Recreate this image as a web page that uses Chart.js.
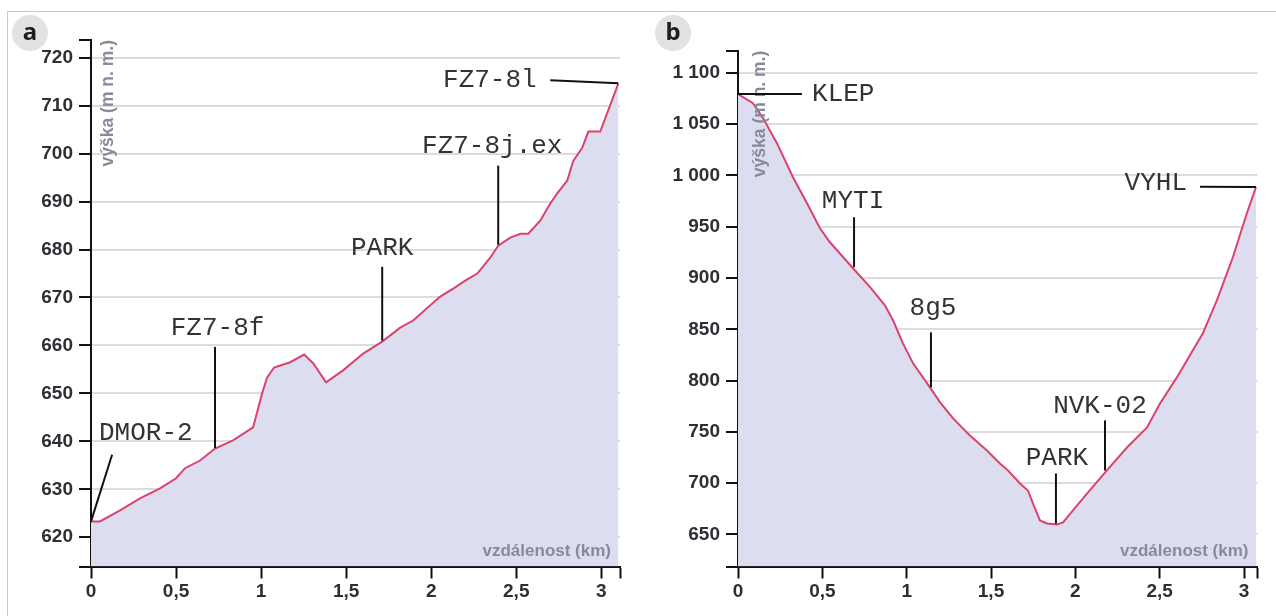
<!DOCTYPE html>
<html>
<head>
<meta charset="utf-8">
<script src="https://cdn.jsdelivr.net/npm/chart.js@4"></script>
<style>
  body { margin: 0; background: #fff; }
  #wrap { position: relative; width: 1276px; height: 616px; overflow: hidden; }
  #frame { position: absolute; left: 7px; top: 11px; width: 1300px; height: 700px;
           border-top: 1px solid #c8c8c8; border-left: 1px solid #c8c8c8; }
  canvas { position: absolute; top: 0; }
  .tag { position: absolute; width: 36px; height: 36px; border-radius: 50%; background: #e2e2e2;
         font: bold 24px "Noto Sans", sans-serif; color: #1e1e1e; text-align: center; line-height: 32px; }
</style>
</head>
<body>
<div id="wrap">
  <div id="frame"></div>
  <canvas id="chart-a" width="640" height="616" style="left:0"></canvas>
  <canvas id="chart-b" width="636" height="616" style="left:640px"></canvas>
  <div class="tag" style="left:12px; top:15px">a</div>
  <div class="tag" style="left:655px; top:15px">b</div>
</div>
<script>
// panel a - distance (km) and elevation (m n. m.)
const distA = [0, 0.053, 0.171, 0.288, 0.406, 0.5, 0.553, 0.641, 0.729, 0.835, 0.953, 1.006, 1.035,
  1.076, 1.171, 1.253, 1.306, 1.382, 1.482, 1.6, 1.712, 1.818, 1.894, 2.053, 2.141, 2.2, 2.271,
  2.347, 2.394, 2.465, 2.524, 2.571, 2.641, 2.7, 2.741, 2.8, 2.835, 2.888, 2.924, 2.994, 3.1];
const elevA = [623.3, 623.3, 625.6, 628.1, 630.2, 632.3, 634.4, 636.0, 638.5, 640.2, 642.9, 650.0, 653.3,
  655.4, 656.5, 658.1, 656.3, 652.3, 654.8, 658.3, 660.8, 663.7, 665.2, 670.2, 672.1, 673.5, 675.0,
  678.3, 680.8, 682.5, 683.3, 683.3, 686.0, 689.6, 691.7, 694.4, 698.5, 701.2, 704.6, 704.6, 714.6];
const sitesA = ['DMOR-2', 'FZ7-8f', 'PARK', 'FZ7-8j.ex', 'FZ7-8l'];

// panel b
const distB = [0, 0.089, 0.148, 0.231, 0.326, 0.409, 0.486, 0.545, 0.682, 0.783, 0.871, 0.919, 0.978,
  1.038, 1.138, 1.197, 1.275, 1.375, 1.476, 1.553, 1.601, 1.672, 1.719, 1.749, 1.79, 1.832, 1.891,
  1.927, 1.986, 2.069, 2.187, 2.306, 2.425, 2.502, 2.602, 2.697, 2.756, 2.839, 2.934, 3.017, 3.071];
const elevB = [1079.2, 1070.4, 1055.8, 1031.4, 998.2, 972.9, 948.5, 934.8, 909.5, 891.0, 873.4, 858.8, 836.3,
  816.8, 793.4, 779.0, 763.1, 746.5, 731.9, 719.2, 712.4, 699.7, 692.9, 680.2, 663.7, 660.7, 659.7,
  661.7, 673.4, 689.9, 712.4, 734.8, 754.3, 777.7, 803.1, 829.5, 846.0, 878.2, 920.2, 963.1, 988.5];
const sitesB = ['KLEP', 'MYTI', '8g5', 'PARK', 'NVK-02', 'VYHL'];

// ticks
const xTicks = [0, 0.5, 1, 1.5, 2, 2.5, 3];
const xTickLabels = ['0', '0,5', '1', '1,5', '2', '2,5', '3'];
const yTicksA = [620, 630, 640, 650, 660, 670, 680, 690, 700, 710, 720];
const yTickLabelsA = ['620', '630', '640', '650', '660', '670', '680', '690', '700', '710', '720'];
const yTicksB = [650, 700, 750, 800, 850, 900, 950, 1000, 1050, 1100];
const yTickLabelsB = ['650', '700', '750', '800', '850', '900', '950', '1 000', '1 050', '1 100'];

// where the site names and their leader lines go (data units)
const notesA = [
  { lx: 0.047, ly: 641.8, align: 'left', line: [0, 623.3, 0.124, 637.2] },
  { lx: 0.744, ly: 663.7, align: 'center', line: [0.729, 659.7, 0.729, 638.6] },
  { lx: 1.712, ly: 680.2, align: 'center', line: [1.712, 676.4, 1.712, 661.0] },
  { lx: 2.359, ly: 701.6, align: 'center', line: [2.394, 697.5, 2.394, 681.0] },
  { lx: 2.62, ly: 715.3, align: 'right', line: [2.7, 715.3, 3.1, 714.7] }
];
const notesB = [
  { lx: 0.439, ly: 1079.2, align: 'left', line: [0, 1079.2, 0.379, 1079.2] },
  { lx: 0.682, ly: 974.8, align: 'center', line: [0.688, 959.2, 0.688, 910.5] },
  { lx: 1.156, ly: 870.5, align: 'center', line: [1.144, 847, 1.144, 793.4] },
  { lx: 1.891, ly: 724.1, align: 'center', line: [1.885, 709.5, 1.885, 660.5] },
  { lx: 2.146, ly: 775.0, align: 'center', line: [2.176, 761.2, 2.176, 712.4] },
  { lx: 2.662, ly: 992.4, align: 'right', line: [2.739, 988.8, 3.071, 988.6] }
];

const tickFont = { family: 'Liberation Sans', weight: 'bold', size: 19 };

const overlay = {
  id: 'overlay',
  afterDatasetsDraw(chart, args, opts) {
    const { ctx, chartArea: ca, scales: { x, y } } = chart;
    ctx.save();
    ctx.fillStyle = '#868a9a';
    ctx.textBaseline = 'middle';
    ctx.textAlign = 'right';
    ctx.font = 'bold 17px "Liberation Sans"';
    ctx.fillText('vzdálenost (km)', ca.right - 9, ca.bottom - 15);
    ctx.save();
    ctx.translate(ca.left + opts.titleOffset, ca.top);
    ctx.rotate(-Math.PI / 2);
    ctx.font = 'bold 17.5px "Liberation Sans"';
    ctx.fillText('výška (m n. m.)', 0, 0);
    ctx.restore();

    ctx.strokeStyle = '#111';
    ctx.lineWidth = 2;
    ctx.fillStyle = '#333';
    ctx.font = '26px "Liberation Mono", "Courier New", monospace';
    opts.notes.forEach((n, i) => {
      const l = n.line;
      ctx.beginPath();
      ctx.moveTo(x.getPixelForValue(l[0]), y.getPixelForValue(l[1]));
      ctx.lineTo(x.getPixelForValue(l[2]), y.getPixelForValue(l[3]));
      ctx.stroke();
      ctx.textAlign = n.align;
      ctx.fillText(opts.names[i], x.getPixelForValue(n.lx), y.getPixelForValue(n.ly));
    });
    ctx.restore();
  }
};

function makeChart(id, dist, elev, yTicks, yLabels, yMin, yMax, xMax, pad, yWidth, names, notes, titleOffset) {
  return new Chart(document.getElementById(id), {
    type: 'line',
    data: {
      datasets: [{
        data: dist.map((d, i) => ({ x: d, y: elev[i] })),
        borderColor: '#d94272',
        borderWidth: 2,
        backgroundColor: '#dcdef0',
        fill: 'start',
        pointRadius: 0,
        tension: 0
      }]
    },
    options: {
      responsive: false,
      animation: false,
      layout: { padding: pad },
      scales: {
        x: {
          type: 'linear',
          min: 0,
          max: xMax,
          afterBuildTicks: axis => { axis.ticks = xTicks.concat([xMax]).map(v => ({ value: v })); },
          afterFit: axis => { axis.height = 49.5; },
          grid: { drawOnChartArea: false, tickLength: 12, tickColor: '#111', tickWidth: 2 },
          border: { color: '#111', width: 2 },
          ticks: {
            autoSkip: false,
            maxRotation: 0,
            padding: 2,
            font: tickFont,
            color: '#2e2e35',
            callback: v => { const k = xTicks.indexOf(v); return k < 0 ? '' : xTickLabels[k]; }
          }
        },
        y: {
          min: yMin,
          max: yMax,
          afterBuildTicks: axis => { axis.ticks = [yMin].concat(yTicks, [yMax]).map(v => ({ value: v })); },
          afterFit: axis => { axis.width = yWidth; },
          grid: {
            color: c => (c.tick && yTicks.includes(c.tick.value)) ? '#dcdcdc' : 'rgba(0,0,0,0)',
            lineWidth: 2,
            tickLength: 12,
            tickColor: '#111',
            tickWidth: 2
          },
          border: { color: '#111', width: 2 },
          ticks: {
            autoSkip: false,
            padding: 6,
            font: tickFont,
            color: '#2e2e35',
            callback: v => { const k = yTicks.indexOf(v); return k < 0 ? '' : yLabels[k]; }
          }
        }
      },
      plugins: {
        legend: { display: false },
        tooltip: { enabled: false },
        overlay: { names: names, notes: notes, titleOffset: titleOffset }
      }
    },
    plugins: [overlay]
  });
}

makeChart('chart-a', distA, elevA, yTicksA, yTickLabelsA, 613.9, 723.7, 3.11,
  { left: 0, right: 20, top: 40, bottom: 0 }, 91, sitesA, notesA, 17);
makeChart('chart-b', distB, elevB, yTicksB, yTickLabelsB, 618.8, 1121.5, 3.08,
  { left: 0, right: 18.5, top: 50.7, bottom: 0 }, 98, sitesB, notesB, 22);
</script>
</body>
</html>
